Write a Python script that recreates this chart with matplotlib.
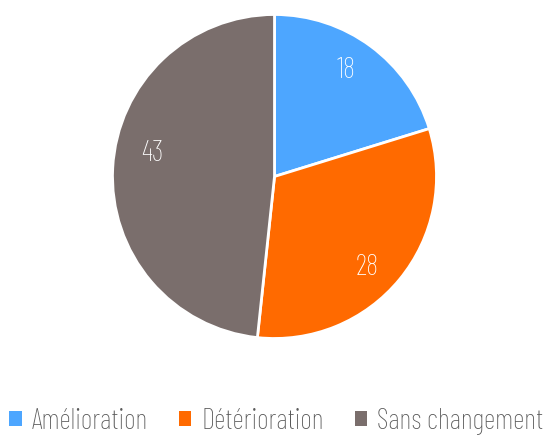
import matplotlib
matplotlib.use('Agg')
import matplotlib.pyplot as plt
from matplotlib.patches import Patch
import numpy as np

labels = ['Amélioration', 'Détérioration', 'Sans changement']
values = [18, 28, 43]
colors = ['#4da6ff', '#ff6a00', '#7a6e6c']

# small nudges so the value labels sit where the original tool put them
label_turn = [2.6, -5.0, -7.7]
label_dist = [0.79, 0.80, 0.77]

plt.rcParams['font.family'] = ['Barlow Condensed', 'DejaVu Sans']
plt.rcParams['font.weight'] = 'light'

fig = plt.figure(figsize=(5.53, 4.40), dpi=100)
ax = fig.add_axes([(274.5 - 162) / 553, (440 - 338.5) / 440, 324 / 553, 324 / 440])
wedges, texts = ax.pie(values, colors=colors, startangle=90, counterclock=False,
                       wedgeprops=dict(edgecolor='white', linewidth=2, clip_on=False))
for w, v, t, d in zip(wedges, values, label_turn, label_dist):
    ang = np.deg2rad((w.theta1 + w.theta2) / 2 + t)
    ax.text(d * np.cos(ang), d * np.sin(ang), str(v), color='white',
            fontsize=21, ha='center', va='center')
ax.set_xlim(-1.0, 1.0)
ax.set_ylim(-1.0, 1.0)
ax.set_aspect('equal')

handles = [Patch(facecolor=c, label=l) for c, l in zip(colors, labels)]
fig.legend(handles=handles, loc='center', bbox_to_anchor=(0.5, 1 - 421 / 440), ncol=3,
           frameon=False, fontsize=20.5, labelcolor='#595959', handlelength=0.43,
           handleheight=0.43, handletextpad=0.35, columnspacing=1.1,
           borderpad=0, borderaxespad=0)

fig.savefig('out.png', dpi=100)
